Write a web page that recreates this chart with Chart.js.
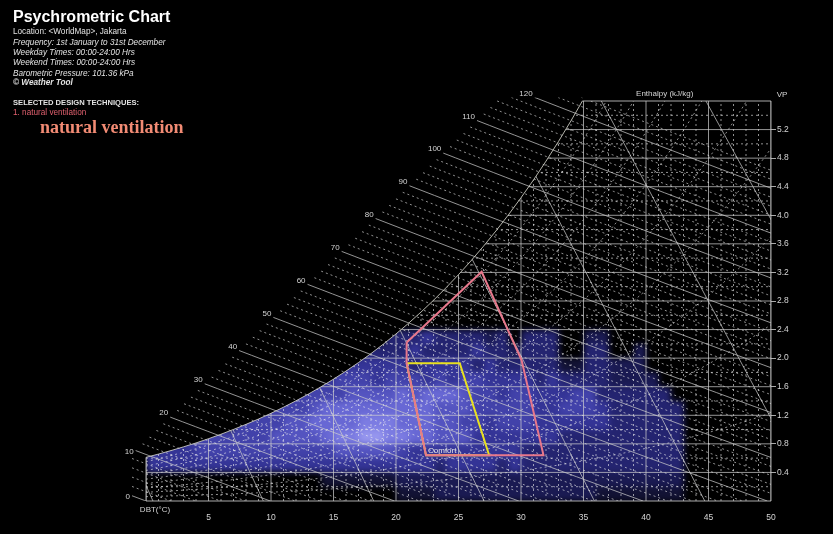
<!DOCTYPE html>
<html>
<head>
<meta charset="utf-8">
<title>Psychrometric Chart</title>
<script src="https://cdn.jsdelivr.net/npm/chart.js@4.4.1/dist/chart.umd.min.js"></script>
<style>
  html, body { margin: 0; padding: 0; background: #000; }
  #wrap { position: relative; width: 833px; height: 534px; background: #000; overflow: hidden; }
  #psy { position: absolute; left: 0; top: 0; }
  .info { position: absolute; left: 13px; white-space: nowrap; color: #e2e2e2;
          font-family: Arial, "Liberation Sans", sans-serif; font-size: 8.2px; line-height: 8.2px; }
  .it { font-style: italic; }
  .b { font-weight: bold; }
  .title { font-size: 16px; line-height: 16px; font-weight: bold; color: #fff; }
  .sel { font-size: 7.6px; line-height: 7.6px; font-weight: bold; }
  .red { color: #e0606e; }
  .big { left: 40px; font-family: "Liberation Serif", "DejaVu Serif", serif; font-size: 18px;
         line-height: 18px; font-weight: bold; color: #f28b74; }
</style>
</head>
<body>
<div id="wrap">
  <canvas id="psy" width="833" height="534"></canvas>
  <div class="info title" style="top:8.5px">Psychrometric Chart</div>
  <div class="info" style="top:28.2px">Location: &lt;WorldMap&gt;, Jakarta</div>
  <div class="info it" style="top:38.7px">Frequency: 1st January to 31st December</div>
  <div class="info it" style="top:48.7px">Weekday Times: 00:00-24:00 Hrs</div>
  <div class="info it" style="top:59.2px">Weekend Times: 00:00-24:00 Hrs</div>
  <div class="info it" style="top:69.5px">Barometric Pressure: 101.36 kPa</div>
  <div class="info it b" style="top:79.2px">&copy; Weather Tool</div>
  <div class="info sel" style="top:98.9px">SELECTED DESIGN TECHNIQUES:</div>
  <div class="info red" style="top:109.2px">1. natural ventilation</div>
  <div class="info big" style="top:118px">natural ventilation</div>
</div>
<script>
const FONT = 'Arial, "Liberation Sans", sans-serif';
const P_ATM = 101.36; // kPa

// axes: dry-bulb temperature (°C) and vapour pressure (kPa)
const dbtTicks = [0, 5, 10, 15, 20, 25, 30, 35, 40, 45, 50];
const vpTicks = [0.4, 0.8, 1.2, 1.6, 2.0, 2.4, 2.8, 3.2, 3.6, 4.0, 4.4, 4.8, 5.2];

// saturation vapour pressure (kPa), 0..50 °C in 1 °C steps
const satVP = [
  0.611, 0.657, 0.706, 0.758, 0.813, 0.872, 0.935, 1.002, 1.073, 1.148,
  1.228, 1.313, 1.403, 1.498, 1.599, 1.706, 1.819, 1.938, 2.064, 2.198,
  2.339, 2.488, 2.645, 2.810, 2.985, 3.169, 3.363, 3.567, 3.782, 4.008,
  4.246, 4.495, 4.758, 5.034, 5.323, 5.627, 5.945, 6.280, 6.630, 6.997,
  7.381, 7.784, 8.205, 8.646, 9.108, 9.590, 10.09, 10.62, 11.17, 11.74, 12.34
];

// labelled enthalpy lines (kJ/kg), relative humidity curves (%), specific volume lines (m3/kg)
const enthalpyLabels = [0, 10, 20, 30, 40, 50, 60, 70, 80, 90, 100, 110, 120];
const rhLevels = [10, 20, 30, 40, 50, 60, 70, 80, 90];
const volumeLevels = [0.775, 0.800, 0.825, 0.850, 0.875, 0.900, 0.925, 0.950];

// design zones (DBT °C / VP kPa)
const comfortDBT = [20.85, 25.1, 27.45, 22.4];
const comfortVP = [1.93, 1.93, 0.64, 0.64];
const natVentDBT = [20.85, 26.85, 30.05, 31.8, 22.4, 20.85];
const natVentVP = [2.22, 3.21, 1.97, 0.64, 0.64, 1.93];

// hourly frequency bins: 1 °C columns from 0 °C, 0.2 kPa rows, top row = 2.2-2.4 kPa
const binDBT0 = 0, binDBT = 1, binVP = 0.2;
const freqRows = [
  '0000000000 0000000003 3343333230 3330022000 0000',
  '0000000000 0000000333 3433334332 3330033002 0000',
  '0000000000 0000044444 4344443433 3331133222 0000',
  '0000000000 0005455545 5545455444 4343333222 2000',
  '0000000000 0555556666 7677765545 5444553333 3300',
  '0000000005 5556777777 7776665555 5445554333 3330',
  '0000000555 5667777888 7776655455 5444444333 3330',
  '0005555555 6666788998 8776664444 4443333333 3330',
  '4444555555 5555566666 5444444444 3333333333 3330',
  '4444444444 4444444444 4443444434 3333333333 3330',
  '0000000000 0000111111 2222222222 2222222222 2220',
  '0000000000 0000000000 1112222222 2222221111 1110'
];
const heatColours = [null,
  'rgb(18,18,52)', 'rgb(26,26,82)', 'rgb(36,36,112)', 'rgb(52,52,150)', 'rgb(66,66,170)',
  'rgb(84,84,192)', 'rgb(104,104,212)', 'rgb(124,124,226)', 'rgb(150,150,238)'];

const SOLID = 'rgba(205,205,205,0.72)';
const DOTS = 'rgba(240,240,240,0.6)';
const DASH = [2, 3];
const LABEL = '#d4d4d4';

// psychrometric relations used for the chart net
const humRatio = vp => 0.622 * vp / P_ATM;
const vpAtEnthalpy = (h, t) => (h - 1.006 * t) * P_ATM / (0.622 * (2501 + 1.86 * t));
const dbtAtVolume = (v, vp) => v * P_ATM / (0.287 * (1 + 1.608 * humRatio(vp))) - 273.15;

// enthalpy scale outside the saturation curve: vertical stub, then a slanted edge
const fringe = { dbt: -1.12, vpKnee: 0.657, slope: 0.1692, vpTop: 5.65 };

function enthalpyStart(h) {
  const edge = t => fringe.vpKnee + fringe.slope * (t - fringe.dbt);
  let t0 = fringe.dbt;
  if (vpAtEnthalpy(h, t0) > fringe.vpKnee) {
    let lo = t0, hi = 45;
    for (let i = 0; i < 40; i++) {
      const m = (lo + hi) / 2;
      if (vpAtEnthalpy(h, m) > edge(m)) lo = m; else hi = m;
    }
    t0 = lo;
  }
  if (vpAtEnthalpy(h, t0) > fringe.vpTop) {
    const c = fringe.vpTop;
    t0 = (h * P_ATM - 0.622 * 2501 * c) / (1.006 * P_ATM + 0.622 * 1.86 * c);
  }
  return t0;
}

function satTopDBT(vpMax) {
  for (let t = 0; t < satVP.length - 1; t++) {
    if (satVP[t] <= vpMax && satVP[t + 1] > vpMax) {
      return t + (vpMax - satVP[t]) / (satVP[t + 1] - satVP[t]);
    }
  }
  return satVP.length - 1;
}

const psychroNet = {
  id: 'psychroNet',
  beforeDatasetsDraw(chart) {
    const { ctx, chartArea: a, scales: { x, y } } = chart;
    const px = t => x.getPixelForValue(t);
    const py = v => y.getPixelForValue(v);
    const vpMax = y.max, dbtMax = x.max;
    const tTop = satTopDBT(vpMax);

    const polyline = pts => {
      ctx.beginPath();
      pts.forEach(([t, v], i) => i ? ctx.lineTo(px(t), py(v)) : ctx.moveTo(px(t), py(v)));
      ctx.stroke();
    };
    const clipUnderSat = () => {
      ctx.beginPath();
      ctx.rect(a.left, a.top, a.right - a.left, a.bottom - a.top);
      ctx.clip();
      ctx.beginPath();
      ctx.moveTo(px(0), py(0));
      satVP.forEach((v, t) => ctx.lineTo(px(t), py(v)));
      ctx.lineTo(px(satVP.length - 1), py(0));
      ctx.closePath();
      ctx.clip();
    };

    // frequency bins on a separate layer, then softened onto the chart
    const layer = document.createElement('canvas');
    layer.width = chart.width;
    layer.height = chart.height;
    const lc = layer.getContext('2d');
    freqRows.forEach((row, r) => {
      const vpLo = (freqRows.length - 1 - r) * binVP;
      row.replace(/ /g, '').split('').forEach((ch, c) => {
        const n = Number(ch);
        if (!n) return;
        const t0 = binDBT0 + c * binDBT;
        const x0 = Math.round(px(t0)), x1 = Math.round(px(t0 + binDBT));
        const y0 = Math.round(py(vpLo + binVP)), y1 = Math.round(py(vpLo));
        lc.fillStyle = heatColours[n];
        lc.fillRect(x0, y0, x1 - x0, y1 - y0);
      });
    });

    ctx.save();
    clipUnderSat();
    ctx.filter = 'blur(3px)';
    ctx.drawImage(layer, 0, 0);
    ctx.filter = 'none';

    ctx.lineWidth = 1;
    // dotted 1 °C verticals, 0.2 kPa horizontals and RH curves
    ctx.strokeStyle = DOTS;
    ctx.setLineDash(DASH);
    for (let t = 1; t < dbtMax; t++) if (t % 5) polyline([[t, 0], [t, vpMax]]);
    for (let k = 1; k * 0.2 < vpMax; k += 2) polyline([[0, k * 0.2], [dbtMax, k * 0.2]]);
    rhLevels.forEach(rh => polyline(satVP.map((v, t) => [t, v * rh / 100])));
    ctx.setLineDash([]);

    // solid grid, specific volume lines
    ctx.strokeStyle = SOLID;
    dbtTicks.forEach(t => polyline([[t, 0], [t, vpMax]]));
    vpTicks.forEach(v => polyline([[0, v], [dbtMax, v]]));
    volumeLevels.forEach(vol => polyline([[dbtAtVolume(vol, 0), 0], [dbtAtVolume(vol, vpMax), vpMax]]));
    ctx.restore();

    // enthalpy lines, running out past the saturation curve to their scale
    ctx.save();
    const xl = px(fringe.dbt) - 1;
    ctx.beginPath();
    ctx.moveTo(xl, a.bottom);
    ctx.lineTo(xl, py(fringe.vpTop));
    ctx.lineTo(px(tTop), py(fringe.vpTop));
    ctx.lineTo(px(tTop), a.top);
    ctx.lineTo(a.right, a.top);
    ctx.lineTo(a.right, a.bottom);
    ctx.closePath();
    ctx.clip();
    for (let h = 0; h <= 124; h += 2) {
      const t0 = enthalpyStart(h), t1 = Math.min(dbtMax, h / 1.006);
      if (t1 <= t0) continue;
      const pts = [];
      for (let t = t0; t < t1; t += 1) pts.push([t, vpAtEnthalpy(h, t)]);
      pts.push([t1, vpAtEnthalpy(h, t1)]);
      if (h % 10 === 0) {
        ctx.setLineDash([]);
        ctx.strokeStyle = SOLID;
      } else {
        ctx.setLineDash(DASH);
        ctx.strokeStyle = DOTS;
      }
      polyline(pts);
    }
    ctx.setLineDash([]);
    ctx.restore();

    // saturation curve and frame
    ctx.save();
    ctx.beginPath();
    ctx.rect(a.left - 1, a.top, a.right - a.left + 2, a.bottom - a.top + 1);
    ctx.clip();
    ctx.strokeStyle = 'rgba(210,210,200,0.85)';
    polyline(satVP.map((v, t) => [t, v]));
    ctx.restore();
    ctx.strokeStyle = 'rgba(200,200,200,0.85)';
    polyline([[0, satVP[0]], [0, 0], [dbtMax, 0], [dbtMax, vpMax], [tTop, vpMax]]);
  },
  afterDraw(chart) {
    const { ctx, chartArea: a, scales: { x, y } } = chart;
    const px = t => x.getPixelForValue(t);
    const py = v => y.getPixelForValue(v);
    ctx.save();
    ctx.fillStyle = LABEL;
    ctx.font = `8px ${FONT}`;
    ctx.textBaseline = 'middle';

    ctx.textAlign = 'right';
    enthalpyLabels.forEach(h => {
      const t = enthalpyStart(h);
      ctx.fillText(String(h), px(t) - 2, py(vpAtEnthalpy(h, t)) + (h < 20 ? 1 : -4));
    });

    ctx.textAlign = 'center';
    ctx.fillText('Enthalpy (kJ/kg)', px(41.5), a.top - 7);
    ctx.fillText('VP', a.right + 11, a.top - 6);
    ctx.fillText('DBT(\u00B0C)', px(0) + 9, a.bottom + 8.5);

    ctx.textAlign = 'left';
    ctx.fillStyle = '#e6e6e6';
    ctx.fillText('Comfort', px(comfortDBT[3]) + 2, py(comfortVP[3]) - 4);
    ctx.restore();
  }
};

const closeRing = (ts, vs) => ts.concat(ts[0]).map((t, i) => ({ x: t, y: vs.concat(vs[0])[i] }));

new Chart(document.getElementById('psy').getContext('2d'), {
  type: 'scatter',
  data: {
    datasets: [
      {
        label: 'natural ventilation',
        data: closeRing(natVentDBT, natVentVP),
        showLine: true, fill: false, tension: 0,
        borderColor: '#e8788c', borderWidth: 2, pointRadius: 0
      },
      {
        label: 'Comfort',
        data: closeRing(comfortDBT, comfortVP),
        showLine: true, fill: false, tension: 0,
        borderColor: '#e8e020', borderWidth: 2, pointRadius: 0
      }
    ]
  },
  options: {
    responsive: false,
    animation: false,
    layout: { padding: { left: 146, top: 101, right: 22, bottom: 13 } },
    plugins: { legend: { display: false }, tooltip: { enabled: false } },
    scales: {
      x: {
        type: 'linear', min: 0, max: 50,
        afterBuildTicks: s => { s.ticks = dbtTicks.map(v => ({ value: v })); },
        afterFit: s => { s.height = 20; },
        grid: { display: false },
        border: { display: false },
        ticks: {
          color: LABEL, padding: 4, maxRotation: 0,
          font: { size: 8.5, family: FONT },
          callback: v => (v === 0 ? '' : String(v))
        }
      },
      y: {
        type: 'linear', position: 'right', min: 0, max: 5.6,
        afterBuildTicks: s => { s.ticks = vpTicks.map(v => ({ value: v })); },
        afterFit: s => { s.width = 40; },
        grid: { drawOnChartArea: false, drawTicks: true, tickLength: 5, color: 'rgba(200,200,200,0.85)' },
        border: { display: false },
        ticks: {
          color: LABEL, padding: 1,
          font: { size: 8.5, family: FONT },
          callback: v => Number(v).toFixed(1)
        }
      }
    }
  },
  plugins: [psychroNet]
});
</script>
</body>
</html>
